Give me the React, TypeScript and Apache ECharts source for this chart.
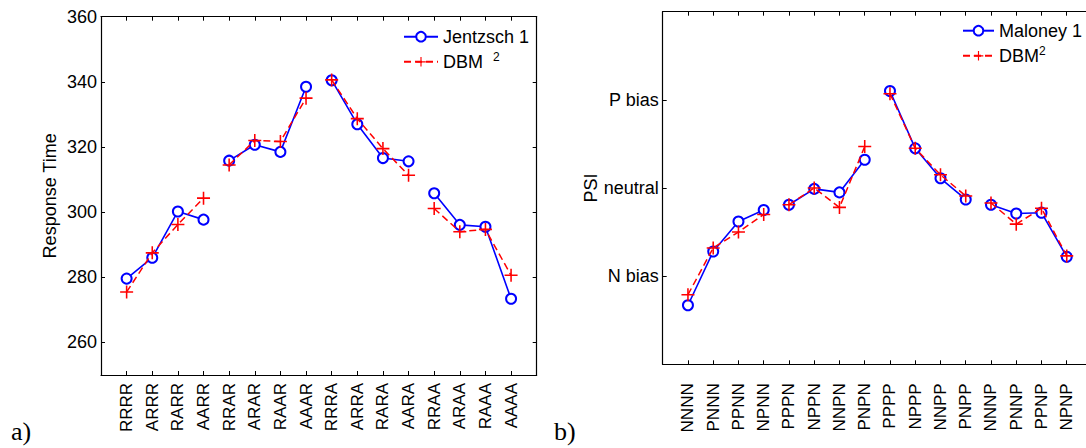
import React, { useEffect, useRef } from "react";
import * as echarts from "echarts";

// Panel a): response times per sequence
const catsA = ["RRRR", "ARRR", "RARR", "AARR", "RRAR", "ARAR", "RAAR", "AAAR", "RRRA", "ARRA", "RARA", "AARA", "RRAA", "ARAA", "RAAA", "AAAA"];
const jentzsch = [279.6, 286.0, 300.2, 297.7, 315.8, 320.7, 318.5, 338.5, 340.5, 327.0, 316.6, 315.6, 305.8, 296.1, 295.5, 273.4];
const dbmA = [275.5, 287.5, 296.2, 304.3, 314.5, 322.0, 321.7, 335.0, 340.6, 328.7, 319.5, 311.3, 301.1, 294.0, 294.7, 280.6];
const ticksA = [260, 280, 300, 320, 340, 360];

// Panel b): PSI per sequence
const catsB = ["NNNN", "PNNN", "PPNN", "NPNN", "PPPN", "NPPN", "NNPN", "PNPN", "PPPP", "NPPP", "NNPP", "PNPP", "NNNP", "PNNP", "PPNP", "NPNP"];
const maloney = [-1.33, -0.72, -0.38, -0.25, -0.19, -0.01, -0.05, 0.32, 1.10, 0.45, 0.11, -0.13, -0.19, -0.29, -0.28, -0.78];
const dbmB = [-1.21, -0.68, -0.50, -0.30, -0.19, 0.0, -0.22, 0.47, 1.07, 0.45, 0.15, -0.09, -0.17, -0.41, -0.23, -0.77];
const psiLabels: Record<string, string> = { "1": "P bias", "0": "neutral", "-1": "N bias" };

const BLUE = "#0000ff";
const RED = "#ff0000";
const FONT = "Liberation Sans";
const PLUS = "path://M-0.12,-1H0.12V-0.12H1V0.12H0.12V1H-0.12V0.12H-1V-0.12H-0.12Z";

function groups(values: number[]) {
  const out: number[][][] = [];
  for (let g = 0; g < 4; g++) {
    out.push(values.slice(g * 4, g * 4 + 4).map((v, i) => [g * 4 + i + 1, v]));
  }
  return out;
}

function blueSeries(name: string, values: number[], gi: number) {
  return groups(values).map((data) => ({
    type: "line",
    name,
    xAxisIndex: gi * 2,
    yAxisIndex: gi * 2,
    data,
    symbol: "emptyCircle",
    symbolSize: 10,
    itemStyle: { color: BLUE, borderColor: BLUE, borderWidth: 1.5 },
    lineStyle: { color: BLUE, width: 1.6 },
    z: 2,
  }));
}

function redSeries(name: string, values: number[], gi: number) {
  return groups(values).map((data) => ({
    type: "line",
    name,
    xAxisIndex: gi * 2,
    yAxisIndex: gi * 2,
    data,
    symbol: PLUS,
    symbolSize: 13,
    itemStyle: { color: RED, borderWidth: 0 },
    lineStyle: { color: RED, width: 1.5, type: [7, 4] },
    z: 3,
  }));
}

function xAxes(cats: string[], gi: number, margin: number) {
  const base = {
    type: "value",
    gridIndex: gi,
    min: 0,
    max: 17,
    interval: 1,
    splitLine: { show: false },
    axisLine: { show: true, onZero: false, lineStyle: { color: "#000", width: 1.2 } },
    axisTick: { show: true, inside: true, length: 4, lineStyle: { color: "#000" } },
  };
  return [
    {
      ...base,
      position: "bottom",
      axisLabel: {
        show: true,
        rotate: 90,
        margin,
        color: "#000",
        fontFamily: FONT,
        fontSize: 17,
        formatter: (v: number) => cats[v - 1] ?? "",
      },
    },
    { ...base, position: "top", axisLabel: { show: false } },
  ];
}

export default function App() {
  const ref = useRef<HTMLDivElement>(null);

  useEffect(() => {
    if (!ref.current) return;
    const chart = echarts.init(ref.current, null, { renderer: "svg" });

    const yBaseA = {
      type: "value",
      gridIndex: 0,
      min: 250,
      max: 360,
      splitLine: { show: false },
      axisLine: { show: true, onZero: false, lineStyle: { color: "#000", width: 1.2 } },
      axisTick: { show: true, inside: true, length: 4, customValues: ticksA, lineStyle: { color: "#000" } },
    };
    const yBaseB = {
      type: "value",
      gridIndex: 1,
      min: -2,
      max: 2,
      interval: 1,
      splitLine: { show: false },
      axisLine: { show: true, onZero: false, lineStyle: { color: "#000", width: 1.2 } },
      axisTick: { show: true, inside: true, length: 4, customValues: [-1, 0, 1], lineStyle: { color: "#000" } },
    };

    const legendText = {
      color: "#000",
      fontFamily: FONT,
      fontSize: 18,
      rich: {
        t: { fontFamily: FONT, fontSize: 18, color: "#000", lineHeight: 20 },
        s: { fontFamily: FONT, fontSize: 12, color: "#000", lineHeight: 20, padding: [0, 0, 9, 0] },
      },
    };
    const legendFormatter = (name: string) => {
      if (name === "DBM 2") return "{t|DBM  }{s|2}";
      if (name === "DBM2") return "{t|DBM}{s|2}";
      return "{t|" + name + "}";
    };

    chart.setOption({
      animation: false,
      backgroundColor: "#ffffff",
      grid: [
        { left: 101, top: 16.7, width: 435.7, height: 358.3, outerBoundsMode: "none" },
        { left: 662.7, top: 11.7, width: 429.3, height: 352.6, outerBoundsMode: "none" },
      ],
      xAxis: [...xAxes(catsA, 0, 8), ...xAxes(catsB, 1, 19)],
      yAxis: [
        {
          ...yBaseA,
          position: "left",
          name: "Response Time",
          nameLocation: "middle",
          nameRotate: 90,
          nameGap: 42,
          nameTextStyle: { color: "#000", fontFamily: FONT, fontSize: 18 },
          axisLabel: { show: true, margin: 4, color: "#000", fontFamily: FONT, fontSize: 18, customValues: ticksA },
        },
        { ...yBaseA, position: "right", axisLabel: { show: false } },
        {
          ...yBaseB,
          position: "left",
          name: "PSI",
          nameLocation: "middle",
          nameRotate: 90,
          nameGap: 63,
          nameTextStyle: { color: "#000", fontFamily: FONT, fontSize: 18 },
          axisLabel: {
            show: true,
            margin: 4,
            color: "#000",
            fontFamily: FONT,
            fontSize: 18,
            formatter: (v: number) => psiLabels[String(v)] ?? "",
          },
        },
        { ...yBaseB, position: "right", axisLabel: { show: false } },
      ],
      legend: [
        {
          orient: "vertical",
          left: 403,
          top: 27.7,
          padding: 0,
          itemGap: 5.6,
          itemWidth: 34,
          itemHeight: 12,
          data: ["Jentzsch 1", "DBM 2"],
          textStyle: legendText,
          formatter: legendFormatter,
          selectedMode: false,
        },
        {
          orient: "vertical",
          left: 962,
          top: 21.7,
          padding: 0,
          itemGap: 5.6,
          itemWidth: 31,
          itemHeight: 12,
          data: ["Maloney 1", "DBM2"],
          textStyle: legendText,
          formatter: legendFormatter,
          selectedMode: false,
        },
      ],
      graphic: [
        { type: "text", left: 11, top: 418, style: { text: "a)", font: '26px "Liberation Serif"', fill: "#000" } },
        { type: "text", left: 554, top: 418, style: { text: "b)", font: '26px "Liberation Serif"', fill: "#000" } },
      ],
      series: [
        ...blueSeries("Jentzsch 1", jentzsch, 0),
        ...redSeries("DBM 2", dbmA, 0),
        ...blueSeries("Maloney 1", maloney, 1),
        ...redSeries("DBM2", dbmB, 1),
      ],
    });

    return () => chart.dispose();
  }, []);

  return (
    <div
      ref={ref}
      style={{ position: "fixed", left: 0, top: 0, width: 1086, height: 448, background: "#fff" }}
    />
  );
}
